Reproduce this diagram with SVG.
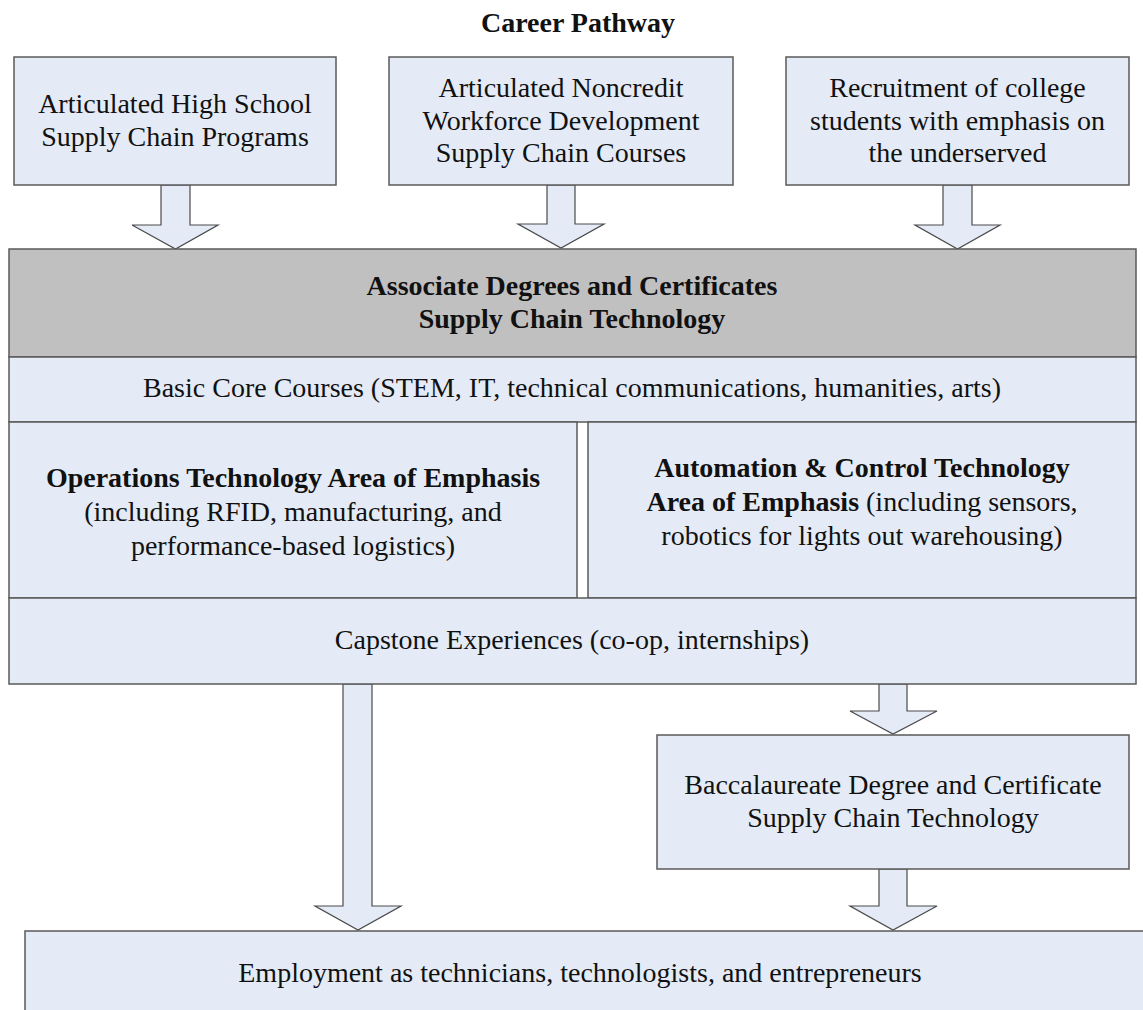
<svg xmlns="http://www.w3.org/2000/svg" width="1143" height="1010" viewBox="0 0 1143 1010">
<style>
.box{fill:#E4EBF6;stroke:#5a5a5a;stroke-width:1.5}
.gray{fill:#C0C0C0;stroke:#5a5a5a;stroke-width:1.5}
.arr{fill:#E4EBF6;stroke:#4a4a4a;stroke-width:1.2;stroke-linejoin:miter}
text{font-family:"Liberation Serif","Times New Roman",serif;font-size:28px;fill:#111;text-anchor:middle}
.b{font-weight:bold}
</style>
<rect width="1143" height="1010" fill="#fff"/>
<text id="title" class="b" x="578" y="32">Career Pathway</text>
<g id="connectors">
<polygon class="arr" points="161,185 190,185 190,225 218,225 175.5,249 132,225 161,225"/>
<polygon class="arr" points="547,185 575,185 575,224 604,224 561,248 518,224 547,224"/>
<polygon class="arr" points="943,185 972,185 972,225 1000,225 957.5,249 915,225 943,225"/>
<polygon class="arr" points="343,684 372,684 372,906 401,906 358,930 315,906 343,906"/>
<polygon class="arr" points="879,684 907,684 907,711 937,711 893,734 850,711 879,711"/>
<polygon class="arr" points="879,869 907,869 907,906 937,906 893,930 850,906 879,906"/>
</g>
<g id="hs">
<rect class="box" x="14" y="57" width="322" height="128"/>
<text x="175" y="113">Articulated High School</text>
<text x="175" y="146">Supply Chain Programs</text>
</g>
<g id="noncredit">
<rect class="box" x="389" y="57" width="344" height="128"/>
<text x="561" y="97">Articulated Noncredit</text>
<text x="561" y="129.5">Workforce Development</text>
<text x="561" y="162">Supply Chain Courses</text>
</g>
<g id="recruit">
<rect class="box" x="786" y="57" width="343" height="128"/>
<text x="957.5" y="97">Recruitment of college</text>
<text x="957.5" y="129.5">students with emphasis on</text>
<text x="957.5" y="162">the underserved</text>
</g>
<g id="associate">
<rect class="gray" x="9" y="249" width="1127" height="108"/>
<text class="b" x="572" y="295">Associate Degrees and Certificates</text>
<text class="b" x="572" y="328">Supply Chain Technology</text>
</g>
<g id="core">
<rect class="box" x="9" y="357" width="1127" height="65"/>
<text x="572" y="397">Basic Core Courses (STEM, IT, technical communications, humanities, arts)</text>
</g>
<g id="operations">
<rect class="box" x="9" y="422" width="568" height="176"/>
<text class="b" x="293" y="487">Operations Technology Area of Emphasis</text>
<text x="293" y="521">(including RFID, manufacturing, and</text>
<text x="293" y="555">performance-based logistics)</text>
</g>
<g id="automation">
<rect class="box" x="588" y="422" width="548" height="176"/>
<text class="b" x="862" y="477">Automation &amp; Control Technology</text>
<text x="862" y="511"><tspan class="b">Area of Emphasis</tspan> (including sensors,</text>
<text x="862" y="545">robotics for lights out warehousing)</text>
</g>
<g id="capstone">
<rect class="box" x="9" y="598" width="1127" height="86"/>
<text x="572" y="649">Capstone Experiences (co-op, internships)</text>
</g>
<g id="baccalaureate">
<rect class="box" x="657" y="735" width="472" height="134"/>
<text x="893" y="794">Baccalaureate Degree and Certificate</text>
<text x="893" y="827">Supply Chain Technology</text>
</g>
<g id="employment">
<rect class="box" x="25" y="931" width="1130" height="100"/>
<text x="580" y="982">Employment as technicians, technologists, and entrepreneurs</text>
</g>
</svg>
